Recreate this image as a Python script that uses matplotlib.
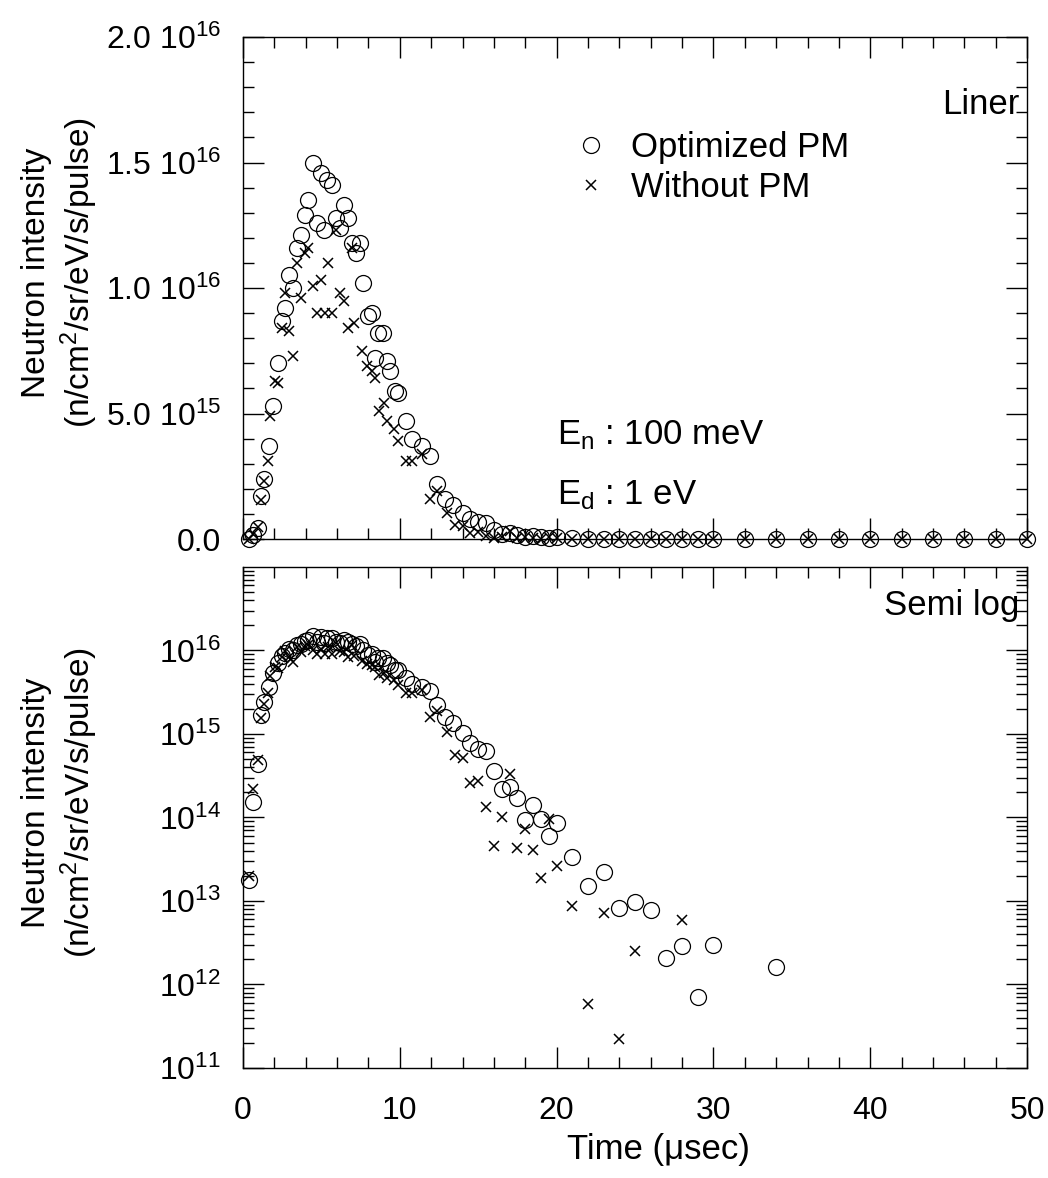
import matplotlib.pyplot as plt
from matplotlib.ticker import MultipleLocator, FixedLocator, LogLocator, NullFormatter

plt.rcParams['font.family'] = ['Liberation Sans', 'DejaVu Sans']
plt.rcParams['mathtext.default'] = 'regular'

# Optimized PM (circles): time (usec) / intensity (n/cm2/sr/eV/s/pulse)
opt_t = [0.35, 0.62, 0.94, 1.15, 1.35, 1.65, 1.9, 2.2,
         2.48, 2.68, 2.93, 3.18, 3.44, 3.69, 3.95, 4.14,
         4.46, 4.71, 4.97, 5.16, 5.35, 5.67, 5.92, 6.18,
         6.43, 6.69, 6.94, 7.2, 7.45, 7.64, 7.96, 8.2,
         8.4, 8.6, 8.9, 9.2, 9.4, 9.7, 9.9, 10.4,
         10.8, 11.4, 11.9, 12.4, 12.9, 13.4, 14.0, 14.5,
         15.0, 15.5, 16.0, 16.5, 17.0, 17.5, 18.0, 18.5,
         19.0, 19.5, 20.0, 21, 22, 23, 24, 25,
         26, 27, 28, 29, 30, 32, 34, 36,
         38, 40, 42, 44, 46, 48, 50]
opt_v = [1.8e13, 1.55e14, 4.4e14, 1.7e15, 2.4e15, 3.7e15, 5.3e15, 7.0e15,
         8.7e15, 9.2e15, 10.5e15, 10.0e15, 11.6e15, 12.1e15, 12.9e15, 13.5e15,
         15.0e15, 12.6e15, 14.6e15, 12.3e15, 14.3e15, 14.1e15, 12.8e15, 12.4e15,
         13.3e15, 12.8e15, 11.8e15, 11.4e15, 11.8e15, 10.2e15, 8.9e15, 9.0e15,
         7.2e15, 8.2e15, 8.2e15, 7.1e15, 6.7e15, 5.9e15, 5.8e15, 4.7e15,
         4.0e15, 3.7e15, 3.3e15, 2.2e15, 1.6e15, 1.35e15, 1.02e15, 7.8e14,
         6.6e14, 6.3e14, 3.6e14, 2.2e14, 2.3e14, 1.7e14, 9.3e13, 1.4e14,
         9.5e13, 6.0e13, 8.5e13, 3.4e13, 1.5e13, 2.2e13, 8.3e12, 9.8e12,
         7.9e12, 2.1e12, 2.9e12, 7.0e11, 3.0e12, 0, 1.6e12, 0,
         0, 0, 0, 0, 0, 0, 0]

# Without PM (crosses)
wo_t = [0.36, 0.62, 0.94, 1.15, 1.35, 1.6, 1.75, 2.05,
        2.2, 2.48, 2.68, 2.93, 3.18, 3.44, 3.69, 3.95,
        4.14, 4.46, 4.71, 4.97, 5.2, 5.4, 5.67, 5.92,
        6.2, 6.43, 6.7, 6.94, 7.1, 7.6, 7.9, 8.2,
        8.4, 8.7, 9.0, 9.2, 9.6, 9.9, 10.4, 10.8,
        11.4, 11.9, 12.4, 13.0, 13.5, 14.0, 14.5, 15.0,
        15.5, 16.0, 16.5, 17.0, 17.5, 18.0, 18.5, 19.0,
        19.5, 20.0, 21, 22, 23, 24, 25, 26,
        27, 28, 29, 30, 32, 34, 36, 38,
        40, 42, 44, 46, 48, 50]
wo_v = [2.0e13, 2.2e14, 4.9e14, 1.55e15, 2.3e15, 3.1e15, 4.9e15, 6.3e15,
        6.2e15, 8.4e15, 9.8e15, 8.3e15, 7.3e15, 11.0e15, 9.6e15, 11.4e15,
        11.6e15, 10.1e15, 9.0e15, 10.3e15, 9.0e15, 11.0e15, 9.0e15, 12.3e15,
        9.8e15, 9.5e15, 8.4e15, 11.6e15, 8.6e15, 7.5e15, 6.9e15, 6.7e15,
        6.4e15, 5.1e15, 5.4e15, 4.7e15, 4.4e15, 3.9e15, 3.1e15, 3.1e15,
        3.4e15, 1.6e15, 1.9e15, 1.05e15, 5.6e14, 5.1e14, 2.6e14, 2.7e14,
        1.35e14, 4.5e13, 1.0e14, 3.3e14, 4.3e13, 7.2e13, 4.1e13, 1.9e13,
        9.5e13, 2.6e13, 8.8e12, 5.8e11, 7.2e12, 2.2e11, 2.5e12, 0,
        0, 5.9e12, 0, 0, 0, 0, 0, 0,
        0, 0, 0, 0, 0, 0]

lin_ticks = [0, 5e15, 1e16, 1.5e16, 2e16]
lin_labels = ['0.0', '5.0 10$^{15}$', '1.0 10$^{16}$', '1.5 10$^{16}$', '2.0 10$^{16}$']
log_ticks = [1e11, 1e12, 1e13, 1e14, 1e15, 1e16]
log_labels = ['10$^{11}$', '10$^{12}$', '10$^{13}$', '10$^{14}$', '10$^{15}$', '10$^{16}$']

fig = plt.figure(figsize=(10.48, 11.78), dpi=100)
ax1 = fig.add_axes([0.2319, 0.5424, 0.7481, 0.4262])
ax2 = fig.add_axes([0.2319, 0.0934, 0.7481, 0.4253])

for ax in (ax1, ax2):
    ax.plot(opt_t, opt_v, 'o', ms=11.5, mfc='none', mec='black', mew=0.9,
            clip_on=False, label='Optimized PM')
    ax.plot(wo_t, wo_v, 'x', ms=7.5, mec='black', mew=1.1, clip_on=False,
            label='Without PM')
    ax.set_xlim(0, 50)
    ax.xaxis.set_major_locator(MultipleLocator(10))
    ax.xaxis.set_minor_locator(MultipleLocator(2))
    ax.tick_params(which='both', direction='in', top=True, right=True,
                   width=1, labelsize=23)
    ax.tick_params(axis='y', which='both', pad=16)
    ax.tick_params(axis='x', which='both', pad=20)
    ax.tick_params(which='major', length=15)
    ax.tick_params(which='minor', length=8)
    for s in ax.spines.values():
        s.set_linewidth(1)
    ax.set_ylabel('Neutron intensity\n(n/cm$^2$/sr/eV/s/pulse)', fontsize=24,
                  linespacing=1.2)
    ax.yaxis.set_label_coords(-0.183, 0.53)

ax1.set_ylim(0, 2e16)
ax1.yaxis.set_major_locator(FixedLocator(lin_ticks))
ax1.set_yticklabels(lin_labels)
ax1.yaxis.set_minor_locator(MultipleLocator(1e15))
ax1.set_xticklabels([])

ax2.set_yscale('log', nonpositive='mask')
ax2.set_ylim(1e11, 1e17)
ax2.yaxis.set_major_locator(FixedLocator(log_ticks))
ax2.set_yticklabels(log_labels)
ax2.yaxis.set_minor_locator(LogLocator(base=10, subs=range(2, 10), numticks=20))
ax2.yaxis.set_minor_formatter(NullFormatter())
ax2.set_xlabel('Time (\u03bcsec)', fontsize=25)
ax2.xaxis.set_label_coords(0.53, -0.13)

ax1.text(0.99, 0.865, 'Liner', transform=ax1.transAxes, ha='right',
         va='center', fontsize=25)
ax1.legend(loc='center left', bbox_to_anchor=(0.40, 0.74), frameon=False,
           fontsize=25, handlelength=1.0, handletextpad=0.65,
           labelspacing=0.2, borderpad=0)
ax1.text(0.40, 0.207, 'E$_{n}$ : 100 meV', transform=ax1.transAxes,
         va='center', fontsize=25)
ax1.text(0.40, 0.088, 'E$_{d}$ : 1 eV', transform=ax1.transAxes,
         va='center', fontsize=25)
ax2.text(0.99, 0.924, 'Semi log', transform=ax2.transAxes, ha='right',
         va='center', fontsize=25)

fig.savefig('out.png', dpi=100)
